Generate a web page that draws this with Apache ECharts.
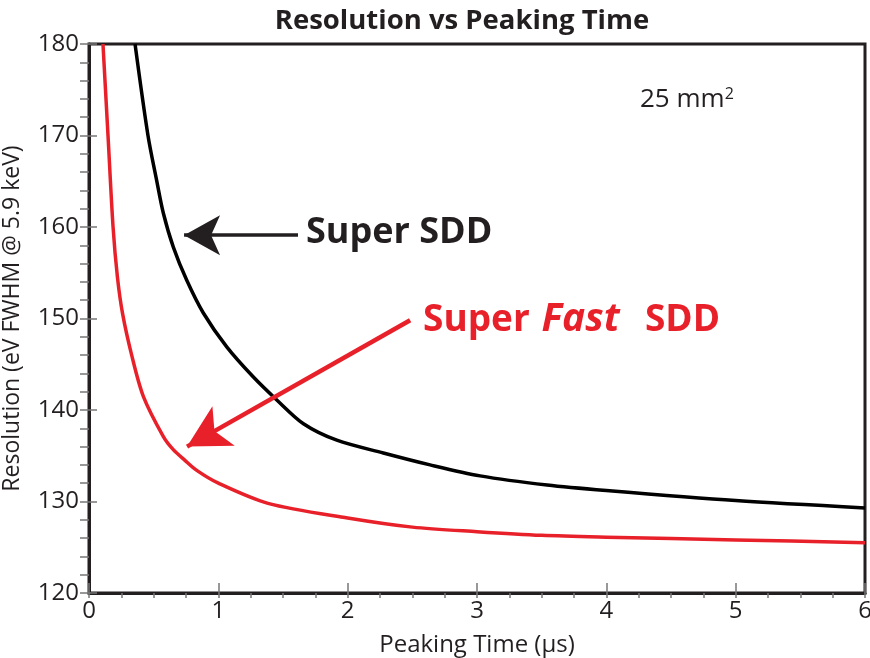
<!DOCTYPE html>
<html>
<head>
<meta charset="utf-8">
<script src="https://cdn.jsdelivr.net/npm/echarts@6/dist/echarts.min.js"></script>
<style>
  html, body { margin: 0; padding: 0; background: #fff; }
  #main { width: 870px; height: 658px; }
</style>
</head>
<body>
<div id="main"></div>
<script>
// Super SDD curve (peaking time in us, resolution in eV)
var superSddTime = [0.356, 0.456, 0.523, 0.575, 0.652, 0.755, 0.884, 1.065, 1.271, 1.452, 1.658, 1.916, 2.276, 2.637, 3.024, 3.542, 4.0, 5.0, 6.0];
var superSddRes  = [180, 170, 165.1, 161.5, 157.8, 154.2, 150.6, 146.9, 143.6, 141.1, 138.5, 136.7, 135.3, 134.0, 132.8, 131.8, 131.2, 130.1, 129.3];

// Super Fast SDD curve
var fastSddTime = [0.108, 0.147, 0.186, 0.22, 0.26, 0.33, 0.42, 0.575, 0.65, 0.742, 0.833, 1.0, 1.384, 2.0, 2.5, 3.0, 3.5, 4.0, 5.0, 6.0];
var fastSddRes  = [180, 170, 160, 154.5, 150.5, 146.0, 141.5, 137.1, 135.7, 134.5, 133.4, 132.0, 129.8, 128.2, 127.2, 126.7, 126.3, 126.1, 125.8, 125.5];

// axis ticks
var xTicks = [0, 1, 2, 3, 4, 5, 6];
var yTicks = [120, 130, 140, 150, 160, 170, 180];

// annotation arrows [from, to] in data units
var blackArrow = [[1.616, 159.1], [0.735, 159.1]];
var redArrow = [[2.483, 149.8], [0.758, 136.0]];

var ink = '#231f20';
var red = '#e8202a';
var font = '"Open Sans", "Noto Sans", sans-serif';

function zip(xs, ys) {
    return xs.map(function (x, i) { return [x, ys[i]]; });
}

var myChart = echarts.init(document.getElementById('main'));

var option = {
    backgroundColor: '#fff',
    animation: false,
    title: {
        text: 'Resolution vs Peaking Time',
        left: 457,
        top: 2,
        textAlign: 'center',
        textStyle: {fontFamily: font, fontWeight: 'bold', fontSize: 27.5, color: ink}
    },
    grid: {
        left: 89, right: 5, top: 44, bottom: 65,
        outerBoundsMode: 'none',
        show: true, borderColor: ink, borderWidth: 3
    },
    xAxis: [{
        type: 'value',
        min: xTicks[0], max: xTicks[xTicks.length - 1], interval: 1,
        name: 'Peaking Time (µs)',
        nameLocation: 'middle',
        nameGap: 40,
        nameTextStyle: {fontFamily: font, fontSize: 24, color: ink},
        axisLine: {lineStyle: {color: ink, width: 3}},
        axisTick: {length: 5, lineStyle: {color: '#777', width: 1.5}},
        minorTick: {show: true, splitNumber: 4, length: 5, lineStyle: {color: '#777', width: 1.5}},
        axisLabel: {fontFamily: font, fontSize: 24, color: ink, margin: 6},
        splitLine: {show: false}
    }, {
        type: 'value', position: 'bottom',
        min: xTicks[0], max: xTicks[xTicks.length - 1], interval: 1,
        axisLine: {show: false},
        axisTick: {inside: true, length: 10, lineStyle: {color: '#777', width: 1.5}},
        axisLabel: {show: false},
        splitLine: {show: false}
    }],
    yAxis: [{
        type: 'value',
        min: yTicks[0], max: yTicks[yTicks.length - 1], interval: 10,
        name: 'Resolution (eV FWHM @ 5.9 keV)',
        nameLocation: 'middle',
        nameGap: 65,
        nameTextStyle: {fontFamily: font, fontSize: 23, color: ink},
        axisLine: {lineStyle: {color: ink, width: 3}},
        axisTick: {length: 9, lineStyle: {color: '#777', width: 1.5}},
        minorTick: {show: true, splitNumber: 5, length: 9, lineStyle: {color: '#777', width: 1.5}},
        axisLabel: {fontFamily: font, fontSize: 24, color: ink, margin: 10},
        splitLine: {show: false}
    }, {
        type: 'value', position: 'left',
        min: yTicks[0], max: yTicks[yTicks.length - 1], interval: 10,
        axisLine: {show: false},
        axisTick: {inside: true, length: 8, lineStyle: {color: '#777', width: 1.5}},
        axisLabel: {show: false},
        splitLine: {show: false}
    }],
    series: [{
        name: 'Super SDD',
        type: 'line',
        data: zip(superSddTime, superSddRes),
        smooth: 0.3,
        showSymbol: false,
        clip: true,
        lineStyle: {color: '#000', width: 3.5},
        markLine: {
            silent: true,
            symbol: ['none', 'arrow'],
            symbolSize: [30, 36],
            label: {show: false},
            lineStyle: {color: ink, width: 3.5, type: 'solid'},
            data: [[{coord: blackArrow[0]}, {coord: blackArrow[1]}]]
        }
    }, {
        name: 'Super Fast SDD',
        type: 'line',
        data: zip(fastSddTime, fastSddRes),
        smooth: 0.3,
        showSymbol: false,
        clip: true,
        lineStyle: {color: red, width: 3.5},
        markLine: {
            silent: true,
            symbol: ['none', 'arrow'],
            symbolSize: [34, 42],
            label: {show: false},
            lineStyle: {color: red, width: 4.5, type: 'solid'},
            data: [[{coord: redArrow[0]}, {coord: redArrow[1]}]]
        }
    }],
    graphic: [{
        type: 'text',
        x: 640, y: 100,
        style: {
            text: '{a|25 mm}{s|2}',
            fill: ink,
            verticalAlign: 'middle',
            rich: {
                a: {fontFamily: font, fontSize: 26, fill: ink},
                s: {fontFamily: font, fontSize: 16, fill: ink, verticalAlign: 'top', padding: [0, 0, 12, 0]}
            }
        }
    }, {
        type: 'text',
        x: 306, y: 233,
        style: {
            text: 'Super SDD',
            font: 'bold 36px ' + font,
            fill: ink,
            verticalAlign: 'middle'
        }
    }, {
        type: 'text',
        x: 423, y: 320,
        style: {
            text: '{a|Super }{b|Fast}{a|  SDD}',
            fill: red,
            verticalAlign: 'middle',
            shadowColor: 'rgba(0,0,0,0.45)',
            shadowOffsetX: 1,
            shadowOffsetY: 1,
            shadowBlur: 1,
            rich: {
                a: {fontFamily: font, fontWeight: 'bold', fontSize: 37, fill: red},
                b: {fontFamily: font, fontWeight: 'bold', fontStyle: 'italic', fontSize: 39, fill: red, padding: [0, 6, 0, 2]}
            }
        }
    }]
};

myChart.setOption(option);
</script>
</body>
</html>
